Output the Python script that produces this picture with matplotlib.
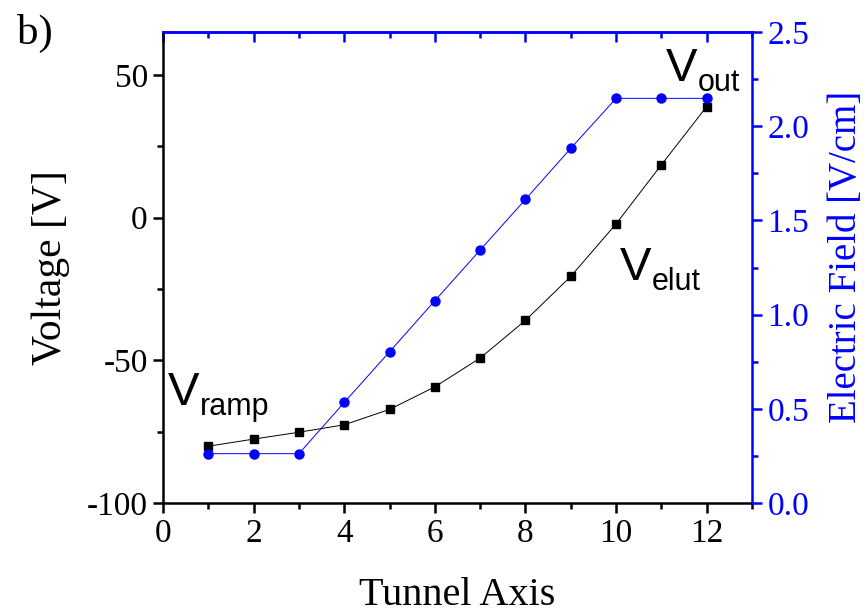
import matplotlib
matplotlib.use("Agg")
import matplotlib.pyplot as plt
from matplotlib.ticker import MultipleLocator, FormatStrFormatter

plt.rcParams['font.family'] = ['Liberation Serif', 'DejaVu Serif']
plt.rcParams['axes.unicode_minus'] = False

tunnel_axis = [1, 2, 3, 4, 5, 6, 7, 8, 9, 10, 11, 12]
voltage = [-80.1, -77.6, -75.2, -72.6, -67.2, -59.3, -49.2, -36.0, -20.6, -2.2, 18.5, 38.9]
field = [0.262, 0.262, 0.262, 0.534, 0.803, 1.074, 1.343, 1.612, 1.883, 2.148, 2.148, 2.148]

annot_subs = ['ramp', 'out', 'elut']
annot_x = [0.11, 11.1, 10.08]
annot_y = [-65.7, 47.9, -22.0]

BLUE = '#0000ff'

fig = plt.figure(figsize=(8.64, 6.16), dpi=100)
ax = fig.add_axes([0.1887, 0.1834, 0.6817, 0.7646])
ax2 = ax.twinx()

ax.plot(tunnel_axis, voltage, color='black', lw=0.7, marker='s', ms=5.5, zorder=3)
ax2.plot(tunnel_axis, field, color=BLUE, lw=0.7, marker='o', ms=6.5, zorder=3)

ax.set_xlim(0, 13)
ax.set_ylim(-100, 65)
ax2.set_ylim(0, 2.5)

ax.xaxis.set_major_locator(MultipleLocator(2))
ax.xaxis.set_minor_locator(MultipleLocator(1))
ax.yaxis.set_major_locator(MultipleLocator(50))
ax.yaxis.set_minor_locator(MultipleLocator(25))
ax2.yaxis.set_major_locator(MultipleLocator(0.5))
ax2.yaxis.set_minor_locator(MultipleLocator(0.25))
ax2.yaxis.set_major_formatter(FormatStrFormatter('%.1f'))

lw = 1.8
for s in ['left', 'bottom']:
    ax.spines[s].set_linewidth(lw)
for s in ['top', 'right']:
    ax.spines[s].set_visible(False)
ax2.spines['left'].set_visible(False)
ax2.spines['bottom'].set_visible(False)
ax2.spines['top'].set_color(BLUE)
ax2.spines['right'].set_color(BLUE)
ax2.spines['top'].set_linewidth(lw)
ax2.spines['right'].set_linewidth(lw)

ax.tick_params(axis='both', which='major', direction='out', length=7, width=lw, labelsize=24, pad=4)
ax.tick_params(axis='both', which='minor', direction='out', length=4, width=lw)
ax.tick_params(axis='x', which='both', top=False)
ax2.tick_params(axis='y', which='major', direction='out', length=7, width=lw, colors=BLUE, labelsize=24, pad=4)
ax2.tick_params(axis='y', which='minor', direction='out', length=4, width=lw, colors=BLUE)

# top blue ticks (inward)
secx = ax.secondary_xaxis('top')
secx.xaxis.set_major_locator(MultipleLocator(2))
secx.xaxis.set_minor_locator(MultipleLocator(1))
secx.tick_params(axis='x', which='major', direction='in', length=7, width=lw, colors=BLUE, labeltop=False)
secx.tick_params(axis='x', which='minor', direction='in', length=4, width=lw, colors=BLUE)
secx.spines['top'].set_color(BLUE)
secx.spines['top'].set_linewidth(lw)

ax.set_xlabel('Tunnel Axis', fontsize=29, labelpad=20)
ax.set_ylabel('Voltage [V]', fontsize=30, labelpad=12)
ax2.set_ylabel('Electric Field [V/cm]', fontsize=28, color=BLUE)
ax2.yaxis.set_label_coords(1.129, 0.522)

for sub, xx, yy in zip(annot_subs, annot_x, annot_y):
    t = ax.text(xx, yy, 'V', fontsize=34, family='Liberation Sans', ha='left', va='baseline')
    ax.annotate(sub, xy=(1, 0), xycoords=t, xytext=(0.3, 0), textcoords='offset points',
                fontsize=22, family='Liberation Sans', ha='left', va='baseline')

fig.text(0.02, 0.978, 'b)', fontsize=31, ha='left', va='top')

fig.savefig('out.png', dpi=100)
